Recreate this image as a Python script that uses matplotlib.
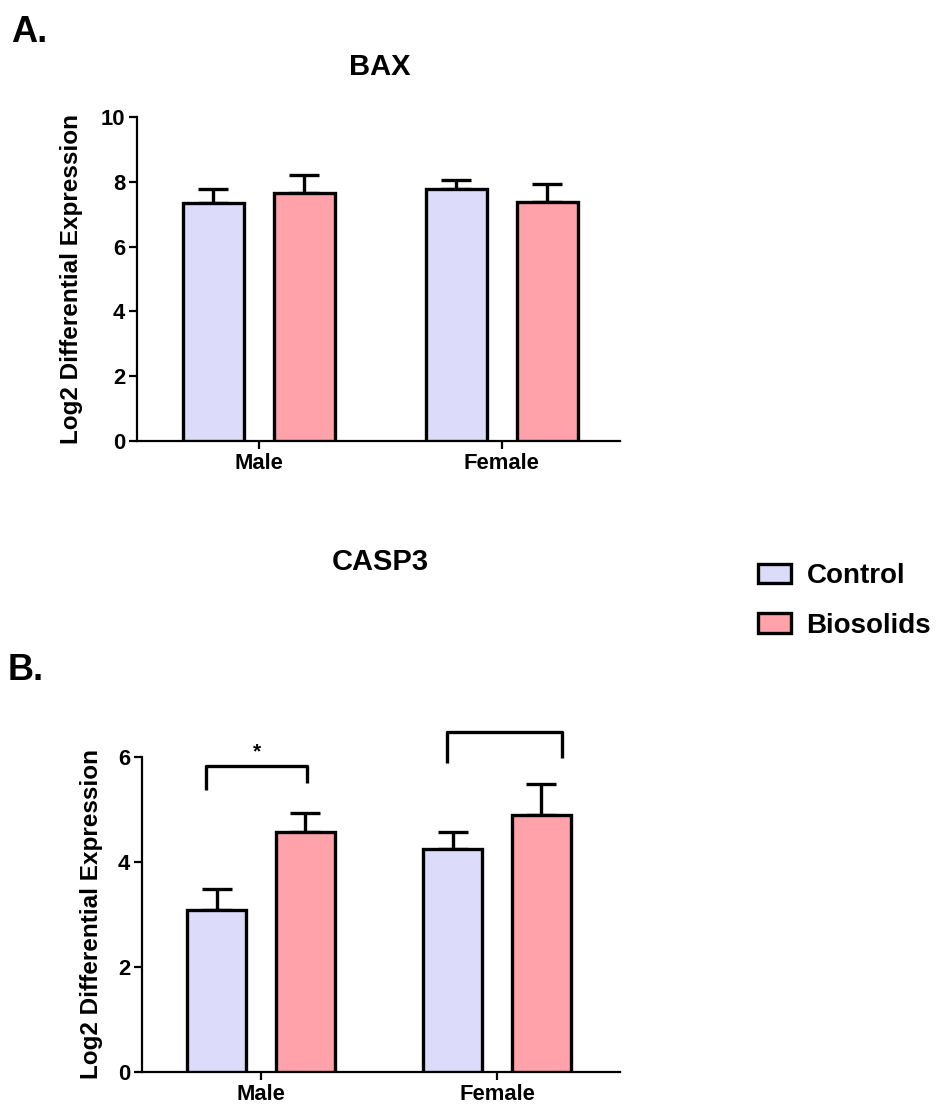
#!/usr/bin/env python

'''
BAX and CASP3 log2 differential expression, control vs biosolids
'''

import matplotlib
matplotlib.use('Agg')
import matplotlib.pyplot as plt
from matplotlib.patches import Patch


SEXES = ['Male', 'Female']
GROUPS = ['Control', 'Biosolids']

BAX_MEAN = {'Control': [7.35, 7.78], 'Biosolids': [7.65, 7.39]}
BAX_SEM = {'Control': [0.43, 0.27], 'Biosolids': [0.55, 0.54]}

CASP3_MEAN = {'Control': [3.08, 4.24], 'Biosolids': [4.57, 4.89]}
CASP3_SEM = {'Control': [0.40, 0.32], 'Biosolids': [0.36, 0.60]}

# brackets: (x left, x right, y left foot, y right foot, y top, label)
CASP3_BRACKETS = [(-0.233, 0.195, 5.37, 5.50, 5.82, '*'),
                  (0.79, 1.275, 5.88, 5.97, 6.47, '')]

COLORS = {'Control': '#DCDCFA', 'Biosolids': '#FFA2A9'}
BAR_WIDTH = 0.25
OFFSET = 0.187
FONT = 'Liberation Sans'

plt.rcParams['font.family'] = [FONT, 'DejaVu Sans']
plt.rcParams['font.weight'] = 'bold'


def bar_panel(ax, means, sems, ylim, yticks, xlim, label_x):
    for i, grp in enumerate(GROUPS):
        xs = [k + (i * 2 - 1) * OFFSET for k in range(len(SEXES))]
        ax.bar(xs, means[grp], width=BAR_WIDTH, color=COLORS[grp],
               edgecolor='black', linewidth=2.4, zorder=3)
        ax.errorbar(xs, means[grp], yerr=[[0] * len(xs), sems[grp]],
                    fmt='none', ecolor='black', elinewidth=2.4,
                    capsize=11, capthick=2.4, zorder=2)
    ax.set_xlim(*xlim)
    ax.set_ylim(*ylim)
    ax.set_yticks(yticks)
    ax.set_xticks(range(len(SEXES)))
    ax.set_xticklabels(SEXES)
    for side in ('top', 'right'):
        ax.spines[side].set_visible(False)
    for side in ('left', 'bottom'):
        ax.spines[side].set_linewidth(1.6)
    ax.tick_params(axis='both', width=1.6, length=5.5, labelsize=15.8, pad=3)
    ax.set_ylabel('Log2 Differential Expression', fontsize=17.5,
                  fontweight='bold')
    # label position is its right edge (text bottom when rotated)
    ax.yaxis.set_label_coords(label_x, 0.5)
    for lab in ax.get_xticklabels() + ax.get_yticklabels():
        lab.set_fontweight('bold')


fig = plt.figure(figsize=(9.38, 11.06), dpi=100)

ax_a = fig.add_axes([0.146, 0.6013, 0.515, 0.2929])
bar_panel(ax_a, BAX_MEAN, BAX_SEM, (0, 10), range(0, 11, 2),
          (-0.502, 1.486), -0.112)

ax_b = fig.add_axes([0.1514, 0.0307, 0.5096, 0.2851])
bar_panel(ax_b, CASP3_MEAN, CASP3_SEM, (0, 6), range(0, 7, 2),
          (-0.504, 1.521), -0.082)

for x0, x1, y0, y1, ytop, txt in CASP3_BRACKETS:
    ax_b.plot([x0, x0, x1, x1], [y0, ytop, ytop, y1], color='black',
              linewidth=2.4, clip_on=False, solid_capstyle='butt')
    if txt:
        ax_b.text((x0 + x1) / 2, ytop + 0.1, txt, ha='center', va='bottom',
                  fontsize=15, fontweight='bold')

fig.text(0.405, 0.939, 'BAX', ha='center', va='center', fontsize=21,
         fontweight='bold')
fig.text(0.405, 0.492, 'CASP3', ha='center', va='center', fontsize=21,
         fontweight='bold')
fig.text(0.012, 0.971, 'A.', ha='left', va='center', fontsize=26,
         fontweight='bold')
fig.text(0.008, 0.394, 'B.', ha='left', va='center', fontsize=26,
         fontweight='bold')

handles = [Patch(facecolor=COLORS[g], edgecolor='black', linewidth=2.4)
           for g in GROUPS]
fig.legend(handles, GROUPS, loc='center left',
           bbox_to_anchor=(0.808, 0.4566), frameon=False,
           prop={'family': FONT, 'weight': 'bold', 'size': 20},
           handlelength=1.2, handleheight=0.72, handletextpad=0.55,
           labelspacing=0.85, borderpad=0, borderaxespad=0)

fig.savefig('out.png', dpi=100)
plt.close(fig)
